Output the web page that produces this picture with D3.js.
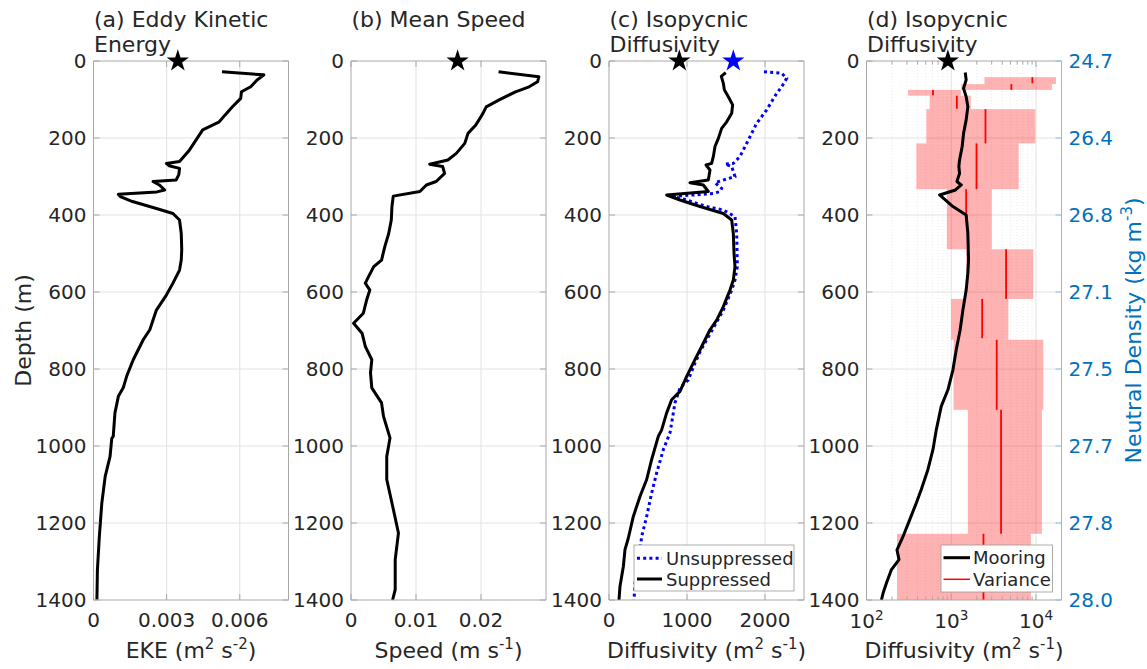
<!DOCTYPE html>
<html><head><meta charset="utf-8">
<script src="https://cdn.jsdelivr.net/npm/d3@7"></script>
<style>body{margin:0;background:#fff} svg{display:block;font-family:"DejaVu Sans",sans-serif}</style>
</head><body><svg id="c" width="1147" height="669"></svg>
<script>
// ---------------- data ----------------
const depthTicks = [0, 200, 400, 600, 800, 1000, 1200, 1400];
const densityLabels = ["24.7", "26.4", "26.8", "27.1", "27.5", "27.7", "27.8", "28.0"];
const ekeTicks = [0, 0.003, 0.006];
const ekeTickLabels = ["0", "0.003", "0.006"];
const speedTicks = [0, 0.01, 0.02];
const speedTickLabels = ["0", "0.01", "0.02"];
const diffTicks = [0, 1000, 2000];
const diffTickLabels = ["0", "1000", "2000"];
const logTicks = [100, 1000, 10000];
const logTickExponents = ["2", "3", "4"];

const ekeDepth = [28,36,50,67,80,97,119,140,158,179,205,231,261,266,272,279,295,309,313,322,335,340,346,352,365,383,396,413,448,490,517,543,577,608,647,698,724,776,819,849,871,914,975,980,1027,1079,1149,1235,1322,1400];
const ekeValue = [0.00527,0.00699,0.0067,0.00645,0.00607,0.00604,0.0057,0.0054,0.00516,0.00448,0.00421,0.00394,0.00353,0.00299,0.0031,0.00353,0.0035,0.00339,0.00244,0.0027,0.00292,0.0026,0.00102,0.0011,0.0016,0.00258,0.00326,0.00353,0.0036,0.00362,0.0036,0.00353,0.00326,0.00299,0.00258,0.00231,0.00204,0.00163,0.00136,0.00122,0.00102,0.00088,0.00081,0.00075,0.00068,0.00048,0.00034,0.00024,0.00016,0.00014];

const speedDepth = [28,41,54,67,80,101,119,136,150,166,188,214,240,257,268,274,292,313,322,339,351,378,413,448,482,517,534,560,577,595,621,655,681,707,741,776,810,849,888,923,979,1027,1087,1148,1226,1295,1373,1400];
const speedValue = [0.0227,0.0289,0.0287,0.0274,0.0253,0.0228,0.0208,0.0203,0.0198,0.0192,0.018,0.0175,0.0162,0.0149,0.0121,0.0141,0.0144,0.0131,0.0116,0.0106,0.0065,0.0063,0.0062,0.0058,0.0052,0.0047,0.0035,0.0027,0.0022,0.0029,0.0024,0.0019,0.0004,0.0017,0.0022,0.0032,0.003,0.0032,0.0047,0.005,0.006,0.0055,0.0055,0.0063,0.0073,0.0068,0.0068,0.0064];

const suppDepth = [30,40,58,75,93,114,136,158,175,201,222,248,266,270,283,309,316,322,339,348,361,378,396,413,448,500,534,569,595,638,673,698,750,784,819,858,880,914,958,975,1035,1087,1131,1183,1239,1269,1313,1364,1400];
const suppValue = [1496,1440,1466,1479,1530,1585,1573,1509,1444,1402,1359,1338,1316,1244,1295,1273,1038,1209,1273,739,910,1167,1466,1573,1594,1603,1615,1594,1551,1466,1380,1295,1167,1081,996,910,803,739,675,632,547,483,397,312,248,205,184,141,128];

const unsuppDepth = [28,32,45,67,84,127,162,188,214,248,266,268,274,300,316,331,339,344,352,361,378,387,404,448,534,569,595,647,700,750,784,828,849,888,966,1009,1070,1122,1183,1235,1304,1356,1400];
const unsuppValue = [1987,2214,2278,2214,2150,2021,1893,1829,1765,1679,1594,1487,1573,1615,1359,1444,1423,1338,825,996,1252,1466,1615,1637,1645,1615,1573,1466,1320,1180,1103,1017,910,846,782,697,611,547,483,419,376,333,321];

const mooringDepth = [30,49,71,93,119,153,188,222,257,274,292,313,322,335,348,378,400,448,517,551,595,647,700,750,802,854,897,958,1009,1061,1113,1148,1192,1235,1270,1295,1321,1356,1382,1400];
const mooringValue = [1462,1500,1397,1500,1570,1500,1397,1346,1253,1230,1253,1166,1312,1122,729,1047,1500,1570,1600,1570,1500,1372,1270,1145,1047,914,762,666,609,531,443,387,323,270,229,242,197,172,157,150];

const boxTop    = [42, 60, 75, 90, 125, 214, 333, 489, 618, 724, 906, 1228];
const boxBottom = [60, 75, 90, 125, 214, 333, 489, 618, 724, 906, 1228, 1400];
const boxLow    = [2466, 1312, 309, 556, 508, 387, 888, 1500, 1000, 1065, 1570, 229];
const boxHigh   = [17200, 15400, 1300, 1700, 9820, 6250, 3005, 9290, 4720, 12200, 11750, 8720];

const varTop    = [42, 60, 75, 90, 125, 214, 333, 489, 618, 724, 906, 1228];
const varBottom = [58, 75, 89, 124, 214, 333, 404, 618, 720, 906, 1228, 1400];
const varValue  = [9060, 5120, 609, 1165, 2535, 1986, 1500, 4440, 2317, 3440, 3870, 2400];

const starEKE = 0.00346, starSpeed = 0.0164, starSupp = 902, starUnsupp = 1594, starMooring = 913;

// ---------------- layout ----------------
const svg = d3.select("#c");
const TOP = 61, BOT = 600, PW = 195;
const lefts = [93.5, 351, 609, 866.5];
const GRID = "#e2e2e2", AXC = "#a8a8a8", TXT = "#262626", BLUEAX = "#0072BD";
const y = d3.scaleLinear().domain([0, 1400]).range([TOP, BOT]);

const xA = d3.scaleLinear().domain([0, 0.008]).range([lefts[0], lefts[0] + PW]);
const xB = d3.scaleLinear().domain([0, 0.03]).range([lefts[1], lefts[1] + PW]);
const xC = d3.scaleLinear().domain([0, 2500]).range([lefts[2], lefts[2] + PW]);
const xD = d3.scaleLog().domain([100, 20000]).range([lefts[3], lefts[3] + PW]);

function starPath(cx, cy, R) {
  const r = R * 0.382, pts = [];
  for (let k = 0; k < 10; k++) {
    const a = (-90 + k * 36) * Math.PI / 180, rr = k % 2 ? r : R;
    pts.push([cx + rr * Math.cos(a), cy + rr * Math.sin(a)]);
  }
  return "M" + pts.map(p => p.join(",")).join("L") + "Z";
}

function addText(g, x, yy, parts, opts) {
  const t = g.append("text").attr("x", x).attr("y", yy)
    .attr("font-size", opts.size).attr("fill", opts.fill || TXT)
    .attr("text-anchor", opts.anchor || "start");
  if (opts.rotate) t.attr("transform", `rotate(-90,${x},${yy})`);
  let sup = false;
  parts.forEach(p => {
    const isSup = p[1];
    const ts = t.append("tspan").text(p[0]);
    if (isSup) { ts.attr("font-size", opts.size * 0.68).attr("dy", sup ? 0 : -opts.size * 0.4); }
    else { ts.attr("dy", sup ? opts.size * 0.4 : 0); }
    sup = isSup;
  });
  return t;
}

function panel(i, x, ticks, tickLab, title, xlabel, opts = {}) {
  const L = lefts[i], R = L + PW;
  const g = svg.append("g");
  if (opts.minor) {
    g.selectAll(null).data(opts.minor).join("line")
      .attr("x1", d => x(d)).attr("x2", d => x(d)).attr("y1", TOP).attr("y2", BOT)
      .attr("stroke", "#e6e6e6").attr("stroke-width", 0.8).attr("stroke-dasharray", "1,2");
  }
  g.selectAll(null).data(depthTicks.slice(1, -1)).join("line")
    .attr("x1", L).attr("x2", R).attr("y1", d => y(d)).attr("y2", d => y(d))
    .attr("stroke", GRID).attr("stroke-width", 1);
  g.selectAll(null).data(ticks.filter(t => x(t) > L + 1 && x(t) < R - 1)).join("line")
    .attr("x1", d => x(d)).attr("x2", d => x(d)).attr("y1", TOP).attr("y2", BOT)
    .attr("stroke", GRID).attr("stroke-width", 1);
  const content = svg.append("g");
  const ax = svg.append("g");
  ax.append("path").attr("d", `M${R},${BOT}H${L}V${TOP}H${R}` + (opts.rightBlue ? "" : "V" + BOT))
    .attr("fill", "none").attr("stroke", AXC).attr("stroke-width", 1);
  if (opts.rightBlue) {
    ax.append("line").attr("x1", R).attr("x2", R).attr("y1", TOP).attr("y2", BOT)
      .attr("stroke", "#86bfe6").attr("stroke-width", 1);
  }
  ax.selectAll(null).data(depthTicks).join("line")
    .attr("x1", L).attr("x2", L + 6).attr("y1", d => y(d)).attr("y2", d => y(d)).attr("stroke", AXC);
  ax.selectAll(null).data(depthTicks).join("line")
    .attr("x1", R).attr("x2", R - 6).attr("y1", d => y(d)).attr("y2", d => y(d))
    .attr("stroke", opts.rightBlue ? "#86bfe6" : AXC);
  ax.selectAll(null).data(depthTicks).join("text")
    .attr("x", L - 7).attr("y", d => y(d)).attr("dy", "0.36em").attr("text-anchor", "end")
    .attr("font-size", 20).attr("fill", TXT).text(d => d);
  ax.selectAll(null).data(ticks).join("line")
    .attr("x1", d => x(d)).attr("x2", d => x(d)).attr("y1", BOT).attr("y2", BOT - 6).attr("stroke", AXC);
  ax.selectAll(null).data(ticks).join("line")
    .attr("x1", d => x(d)).attr("x2", d => x(d)).attr("y1", TOP).attr("y2", TOP + 6).attr("stroke", AXC);
  if (opts.minor) {
    ax.selectAll(null).data(opts.minor).join("line")
      .attr("x1", d => x(d)).attr("x2", d => x(d)).attr("y1", BOT).attr("y2", BOT - 3.5).attr("stroke", AXC);
    ax.selectAll(null).data(opts.minor).join("line")
      .attr("x1", d => x(d)).attr("x2", d => x(d)).attr("y1", TOP).attr("y2", TOP + 3.5).attr("stroke", AXC);
  }
  if (opts.logLabels) {
    ticks.forEach((t, k) => addText(ax, x(t), 628, [["10", false], [tickLab[k], true]], { size: 20, anchor: "middle" }));
  } else {
    ax.selectAll(null).data(ticks).join("text")
      .attr("x", d => x(d)).attr("y", 627).attr("text-anchor", "middle")
      .attr("font-size", 20).attr("fill", TXT).text((d, k) => tickLab[k]);
  }
  title.forEach((s, k) => ax.append("text").attr("x", L + 0.5).attr("y", 27 + k * 25)
    .attr("font-size", 22).attr("fill", TXT).text(s));
  addText(ax, (L + R) / 2, 658, xlabel, { size: 22, anchor: "middle" });
  return { content, ax, L, R };
}

const line = (x, vals, depths) => d3.line().x((d, k) => x(vals[k])).y(d => y(d))(depths);

// ---- panel a
const pa = panel(0, xA, ekeTicks, ekeTickLabels, ["(a) Eddy Kinetic", "Energy"],
  [["EKE (m", false], ["2", true], [" s", false], ["-2", true], [")", false]]);
pa.content.append("path").attr("d", line(xA, ekeValue, ekeDepth))
  .attr("fill", "none").attr("stroke", "#000").attr("stroke-width", 3).attr("stroke-linejoin", "round");
pa.ax.append("path").attr("d", starPath(xA(starEKE), y(0), 11.7)).attr("fill", "#000");

// ---- panel b
const pb = panel(1, xB, speedTicks, speedTickLabels, ["(b) Mean Speed"],
  [["Speed (m s", false], ["-1", true], [")", false]]);
pb.content.append("path").attr("d", line(xB, speedValue, speedDepth))
  .attr("fill", "none").attr("stroke", "#000").attr("stroke-width", 3).attr("stroke-linejoin", "round");
pb.ax.append("path").attr("d", starPath(xB(starSpeed), y(0), 11.7)).attr("fill", "#000");

// ---- panel c
const pc = panel(2, xC, diffTicks, diffTickLabels, ["(c) Isopycnic", "Diffusivity"],
  [["Diffusivity (m", false], ["2", true], [" s", false], ["-1", true], [")", false]]);
pc.content.append("path").attr("d", line(xC, unsuppValue, unsuppDepth))
  .attr("fill", "none").attr("stroke", "#0000ff").attr("stroke-width", 3).attr("stroke-dasharray", "3,3.2");
pc.content.append("path").attr("d", line(xC, suppValue, suppDepth))
  .attr("fill", "none").attr("stroke", "#000").attr("stroke-width", 3).attr("stroke-linejoin", "round");
pc.ax.append("path").attr("d", starPath(xC(starSupp), y(0), 11.7)).attr("fill", "#000");
pc.ax.append("path").attr("d", starPath(xC(starUnsupp), y(0), 11.7)).attr("fill", "#0000ff");
{
  const lg = pc.ax.append("g");
  lg.append("rect").attr("x", 634).attr("y", 545).attr("width", 160).attr("height", 46)
    .attr("fill", "#fff").attr("stroke", "#9a9a9a").attr("stroke-width", 0.8);
  lg.append("line").attr("x1", 637).attr("x2", 662).attr("y1", 558.3).attr("y2", 558.3)
    .attr("stroke", "#0000ff").attr("stroke-width", 3).attr("stroke-dasharray", "3,3.2");
  lg.append("line").attr("x1", 637).attr("x2", 662).attr("y1", 579).attr("y2", 579)
    .attr("stroke", "#000").attr("stroke-width", 3);
  lg.append("text").attr("x", 666).attr("y", 564.5).attr("font-size", 18).attr("fill", TXT).text("Unsuppressed");
  lg.append("text").attr("x", 666).attr("y", 585.5).attr("font-size", 18).attr("fill", TXT).text("Suppressed");
}

// ---- panel d
const minorD = [];
[100, 1000, 10000].forEach(b => { for (let m = 2; m <= 9; m++) if (b * m < 20000) minorD.push(b * m); });
const pd = panel(3, xD, logTicks, logTickExponents, ["(d) Isopycnic", "Diffusivity"],
  [["Diffusivity (m", false], ["2", true], [" s", false], ["-1", true], [")", false]],
  { minor: minorD, logLabels: true, rightBlue: true });
pd.content.selectAll(null).data(boxTop).join("rect")
  .attr("x", (d, k) => xD(boxLow[k])).attr("width", (d, k) => xD(boxHigh[k]) - xD(boxLow[k]))
  .attr("y", d => y(d)).attr("height", (d, k) => y(boxBottom[k]) - y(d))
  .attr("fill", "#ff0000").attr("fill-opacity", 0.3);
pd.content.selectAll(null).data(varTop).join("line")
  .attr("x1", (d, k) => xD(varValue[k])).attr("x2", (d, k) => xD(varValue[k]))
  .attr("y1", d => y(d)).attr("y2", (d, k) => y(varBottom[k]))
  .attr("stroke", "#ff0000").attr("stroke-width", 1.8);
pd.content.append("path").attr("d", line(xD, mooringValue, mooringDepth))
  .attr("fill", "none").attr("stroke", "#000").attr("stroke-width", 3).attr("stroke-linejoin", "round");
pd.ax.append("path").attr("d", starPath(xD(starMooring), y(0), 11.7)).attr("fill", "#000");
pd.ax.selectAll(null).data(depthTicks).join("text")
  .attr("x", pd.R + 7).attr("y", d => y(d)).attr("dy", "0.36em")
  .attr("font-size", 20).attr("fill", BLUEAX).text((d, k) => densityLabels[k]);
addText(pd.ax, 1141, (TOP + BOT) / 2, [["Neutral Density (kg m", false], ["-3", true], [")", false]],
  { size: 22, anchor: "middle", fill: BLUEAX, rotate: true });
{
  const lg = pd.ax.append("g");
  lg.append("rect").attr("x", 941).attr("y", 545).attr("width", 111.5).attr("height", 47)
    .attr("fill", "#fff").attr("stroke", "#9a9a9a").attr("stroke-width", 0.8);
  lg.append("line").attr("x1", 943.5).attr("x2", 970).attr("y1", 557.7).attr("y2", 557.7)
    .attr("stroke", "#000").attr("stroke-width", 3);
  lg.append("line").attr("x1", 943.5).attr("x2", 970).attr("y1", 579.3).attr("y2", 579.3)
    .attr("stroke", "#ff0000").attr("stroke-width", 1.5);
  lg.append("text").attr("x", 973).attr("y", 564).attr("font-size", 18).attr("fill", TXT).text("Mooring");
  lg.append("text").attr("x", 973).attr("y", 585.5).attr("font-size", 18).attr("fill", TXT).text("Variance");
}

addText(svg, 31, (TOP + BOT) / 2, [["Depth (m)", false]], { size: 22, anchor: "middle", rotate: true });
</script></body></html>
